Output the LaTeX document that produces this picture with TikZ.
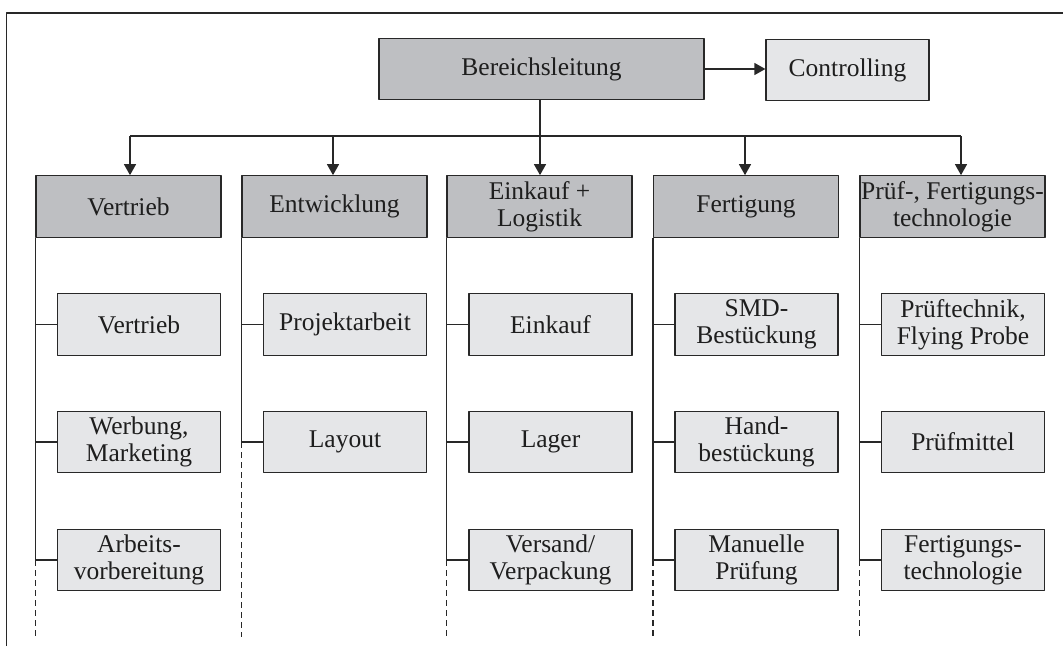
\documentclass[tikz,border=0pt]{standalone}
\usepackage{fontspec}
\setmainfont{Liberation Serif}
\usetikzlibrary{arrows.meta}

\definecolor{kopfgrau}{RGB}{190,191,194}
\definecolor{untergrau}{RGB}{229,230,232}
\definecolor{rand}{RGB}{40,40,40}
\definecolor{schrift}{RGB}{30,30,30}

\tikzset{
  kasten/.style={draw=rand, line width=1.2pt, inner sep=0pt, align=center,
    text=schrift, font=\fontsize{25.5}{27}\selectfont},
  kopf/.style={kasten, fill=kopfgrau, minimum width=185pt, minimum height=61.5pt},
  unter/.style={kasten, fill=untergrau, minimum width=163pt, minimum height=61.5pt},
  pfeil/.style={-{Triangle[length=11pt,width=12pt]}},
  gestrichelt/.style={dashed, dash pattern=on 6pt off 4pt}
}

\begin{document}
\begin{tikzpicture}[line join=round, x=1pt, y=1pt, line width=1.2pt, color=rand]

		\useasboundingbox (0,0) rectangle (1063,-646);

		% Rahmen (oben und links)
		\draw (6.5,-646) -- (6.5,-13) -- (1063,-13);

		% Leitung und Controlling
		\node[kopf, minimum width=325pt] (leitung) at (541.5,-69) {Bereichsleitung};
		\node[unter] (ctrl) at (847.5,-70) {Controlling};
		\draw[pfeil] (leitung.east) -- (ctrl.west |- leitung.east);

		% Bereiche
		\foreach \n/\x/\t in {1/36/Vertrieb, 2/242/Entwicklung, 3/447/{Einkauf +\\Logistik},
			4/653.5/Fertigung, 5/860/{Prüf-, Fertigungs-\\technologie}}
		{\node[kopf] (k\n) at (\x+92.5,-206.5) {\t};
		}

		% Verteiler
		\foreach \n/\x in {1/130, 2/333, 3/540, 4/745, 5/961}
		{\coordinate (b\n) at (\x,-136);
		\draw[pfeil] (b\n) -- (b\n |- k\n.north);
		}
		\draw (b1) -- (b5);
		\draw (leitung.south -| b3) -- (b3);

		% Vertrieb
		\node[unter] (v1) at (139,-324.5) {Vertrieb};
		\node[unter] (v2) at (139,-442) {Werbung,\\Marketing};
		\node[unter] (v3) at (139,-560) {Arbeits-\\vorbereitung};

		% Entwicklung
		\node[unter] (e1) at (345,-324.5) {Projektarbeit};
		\node[unter] (e2) at (345,-442) {Layout};

		% Einkauf + Logistik
		\node[unter] (l1) at (550.5,-324.5) {Einkauf};
		\node[unter] (l2) at (550.5,-442) {Lager};
		\node[unter] (l3) at (550.5,-560) {Versand/\\Verpackung};

		% Fertigung
		\node[unter] (f1) at (756.5,-324.5) {SMD-\\Bestückung};
		\node[unter] (f2) at (756.5,-442) {Hand-\\bestückung};
		\node[unter] (f3) at (756.5,-560) {Manuelle\\Prüfung};

		% Pruef- und Fertigungstechnologie
		\node[unter] (p1) at (963,-324.5) {Prüftechnik,\\Flying Probe};
		\node[unter] (p2) at (963,-442) {Prüfmittel};
		\node[unter] (p3) at (963,-560) {Fertigungs-\\technologie};

		% Stichlinien zu den Unterbereichen
		\foreach \k/\u in {1/v1,1/v2,1/v3,2/e1,2/e2,3/l1,3/l2,3/l3,4/f1,4/f2,4/f3,5/p1,5/p2,5/p3}
		{\draw (k\k.south west |- \u.west) -- (\u.west);
		}

		% senkrechte Linien, unten gestrichelt
		\foreach \k/\u in {1/v3,2/e2,3/l3,4/f3,5/p3}
		{\draw (k\k.south west) -- (k\k.south west |- \u.west);
		\draw[gestrichelt] (k\k.south west |- \u.west) -- (k\k.south west |- 0,-637);
		}

	\end{tikzpicture}
\end{document}
